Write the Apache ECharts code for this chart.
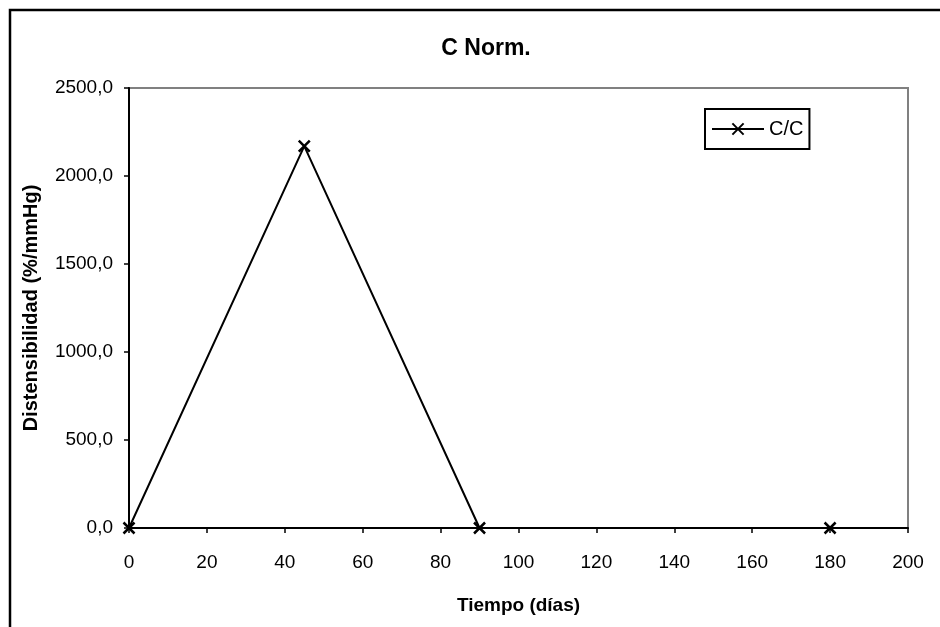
<!DOCTYPE html>
<html><head><meta charset="utf-8">
<script src="https://cdn.jsdelivr.net/npm/echarts@6/dist/echarts.min.js"></script>
<style>html,body{margin:0;padding:0;background:#fff}#c{width:940px;height:627px}</style>
</head><body><div id="c"></div>
<script>
const title = 'C Norm.';
const xName = 'Tiempo (días)';
const yName = 'Distensibilidad (%/mmHg)';
const seriesName = 'C/C';
const xValues = [0, 45, 90, 180];
const yValues = [0, 2170, 0, 0];

const chart = echarts.init(document.getElementById('c'), null, {renderer: 'canvas'});
const F = 'Liberation Sans, Arial, sans-serif';
chart.setOption({
  animation: false,
  backgroundColor: '#fff',
  graphic: [{
    type: 'rect', shape: {x: 10, y: 10, width: 940, height: 640},
    style: {fill: 'none', stroke: '#000', lineWidth: 2.5}, silent: true, z: 100
  }, {
    type: 'rect', shape: {x: 129, y: 88, width: 779, height: 440},
    style: {fill: 'none', stroke: '#808080', lineWidth: 2}, silent: true, z: 0
  }],
  title: {text: title, left: 481, top: 32, textAlign: 'center',
    textStyle: {fontFamily: F, fontSize: 23, fontWeight: 'bold', color: '#000'}},
  legend: {
    data: [seriesName], left: 705, top: 109, orient: 'vertical',
    itemWidth: 52, itemHeight: 14, itemGap: 0, padding: [10, 6, 10, 6],
    borderColor: '#000', borderWidth: 2, borderRadius: 0,
    textStyle: {fontFamily: F, fontSize: 20, color: '#000'}
  },
  grid: {left: 129, top: 88, width: 779, height: 440, containLabel: false},
  xAxis: {
    type: 'value', min: 0, max: 200, interval: 20,
    name: xName, nameLocation: 'middle', nameGap: 68,
    nameTextStyle: {fontFamily: F, fontSize: 19, fontWeight: 'bold', color: '#000'},
    axisLine: {show: true, onZero: false, lineStyle: {color: '#000', width: 2}},
    axisTick: {show: true, length: 5, inside: false, lineStyle: {color: '#000', width: 1.5}},
    axisLabel: {fontFamily: F, fontSize: 19, color: '#000', margin: 25},
    splitLine: {show: false}
  },
  yAxis: {
    type: 'value', min: 0, max: 2500, interval: 500,
    name: yName, nameLocation: 'middle', nameGap: 88, nameRotate: 90,
    nameTextStyle: {fontFamily: F, fontSize: 20, fontWeight: 'bold', color: '#000'},
    axisLine: {show: true, lineStyle: {color: '#000', width: 2}},
    axisTick: {show: true, length: 5, inside: false, lineStyle: {color: '#000', width: 1.5}},
    axisLabel: {fontFamily: F, fontSize: 19, color: '#000', margin: 16,
      formatter: v => v.toFixed(1).replace('.', ',')},
    splitLine: {show: false}
  },
  series: [{
    name: seriesName, type: 'line',
    data: xValues.map((x, i) => [x, yValues[i]]),
    symbol: 'path://M0,0 L10,10 M10,0 L0,10', symbolSize: 11,
    showAllSymbol: true,
    lineStyle: {color: '#000', width: 2},
    itemStyle: {color: '#000', borderColor: '#000', borderWidth: 2.5},
    emphasis: {disabled: true}
  }]
});
</script></body></html>
